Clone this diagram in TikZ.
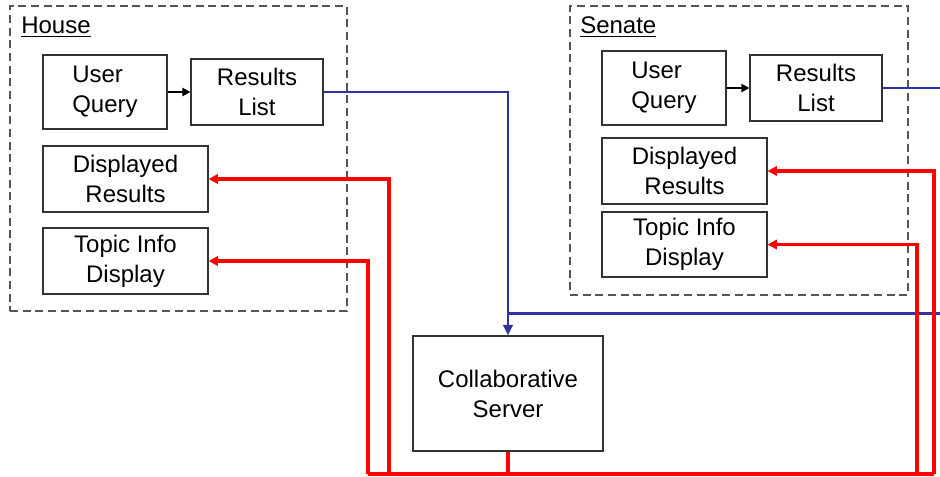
\documentclass[tikz,border=0pt]{standalone}
\usepackage{fontspec}
\setmainfont{Liberation Sans}
\usetikzlibrary{arrows.meta}
\definecolor{bluel}{RGB}{50,50,160}
\definecolor{dashg}{RGB}{85,85,85}
\tikzset{
  box/.style={draw=black!80, line width=0.8pt, fill=white, inner sep=0pt, align=center,
    font=\fontsize{18pt}{22.5pt}\selectfont},
  group/.style={draw=dashg, dashed, dash pattern=on 6pt off 3.5pt, line width=1.1pt, inner sep=0pt},
  title/.style={anchor=west, inner sep=0pt, font=\fontsize{18pt}{22pt}\selectfont},
  blk/.style={line width=1.5pt, -{Triangle[length=6pt,width=6pt]}},
  bl/.style={draw=bluel, line width=2pt},
  rd/.style={draw=red, line width=2.3pt},
  rdar/.style={rd, -{Triangle[length=7pt,width=7pt]}},
  blar/.style={bl, -{Triangle[length=8pt,width=7pt]}}
}
\begin{document}
\begin{tikzpicture}[x=0.75pt,y=-0.75pt]
\useasboundingbox (0,0) rectangle (940,476);
% groups
\node[group, minimum width={337*0.75pt}, minimum height={305*0.75pt}] (house) at (178.5,158.5) {};
\node[group, minimum width={338*0.75pt}, minimum height={289*0.75pt}] (senate) at (739,150.5) {};
\node[title] (houset) at (21,27) {\underline{House}};
\node[title] (senatet) at (580,27) {\underline{Senate}};
% house boxes
\node[box, align=left, minimum width={124*0.75pt}, minimum height={74*0.75pt}] (huq) at (105,92) {User\\Query};
\node[box, minimum width={132*0.75pt}, minimum height={66*0.75pt}] (hrl) at (257,92) {Results\\List};
\node[box, minimum width={165*0.75pt}, minimum height={66*0.75pt}] (hdr) at (125.5,179) {Displayed\\Results};
\node[box, minimum width={165*0.75pt}, minimum height={66*0.75pt}] (hti) at (125.5,261) {Topic Info\\Display};
% senate boxes
\node[box, align=left, minimum width={124*0.75pt}, minimum height={74*0.75pt}] (suq) at (664,88) {User\\Query};
\node[box, minimum width={132*0.75pt}, minimum height={66*0.75pt}] (srl) at (816,88) {Results\\List};
\node[box, minimum width={165*0.75pt}, minimum height={66*0.75pt}] (sdr) at (684.5,171) {Displayed\\Results};
\node[box, minimum width={165*0.75pt}, minimum height={65*0.75pt}] (sti) at (684.5,244.5) {Topic Info\\Display};
% server
\node[box, minimum width={190*0.75pt}, minimum height={115*0.75pt}] (srv) at (508,393.5) {Collaborative\\Server};
% coordinates
\coordinate (hblue) at (508,92);
\coordinate (sblueend) at (940,88);
\coordinate (jin) at (940,313.5);
\coordinate (jpt) at (508,313.5);
\coordinate (bm) at (508,474);
\coordinate (bl1) at (368,474);
\coordinate (bl2) at (389,474);
\coordinate (br1) at (917,474);
\coordinate (br2) at (934,474);
% black arrows
\draw[blk] (huq.east |- hrl.center) -- (hrl.west);
\draw[blk] (suq.east |- srl.center) -- (srl.west);
% blue
\draw[blar] (hrl.east) -- (hblue) -- (srv.north);
\draw[bl] (srl.east) -- (sblueend);
\draw[bl] (jin) -- (jpt);
% red
\draw[rd] (srv.south) -- (bm);
\draw[rd] (bl1) -- (br2);
\draw[rdar] (bl1) -- (bl1 |- hti.east) -- (hti.east);
\draw[rdar] (bl2) -- (bl2 |- hdr.east) -- (hdr.east);
\draw[rdar] (br1) -- (br1 |- sti.east) -- (sti.east);
\draw[rdar] (br2) -- (br2 |- sdr.east) -- (sdr.east);
\end{tikzpicture}
\end{document}
